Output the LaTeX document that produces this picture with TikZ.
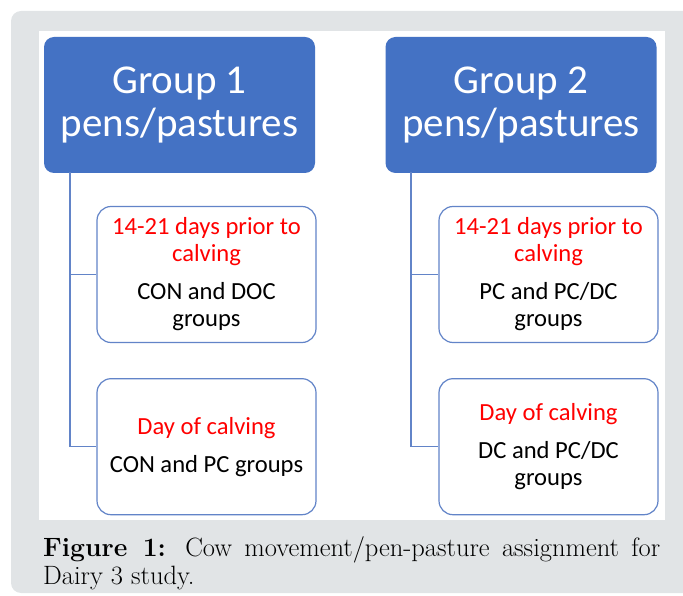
\documentclass[tikz,border=0pt]{standalone}
\usepackage{fontspec}
\newfontfamily\calibrifont{Carlito}
\definecolor{head_c}{RGB}{68,114,196}
\definecolor{line_c}{RGB}{98,132,200}
\definecolor{note_c}{RGB}{255,0,0}
\definecolor{panel_c}{RGB}{225,228,230}
\usetikzlibrary{positioning}

\begin{document}
\begin{tikzpicture}[
			x=1pt, y=1pt,
			head/.style = {rectangle, rounded corners=10pt, fill=head_c, text=white,
				minimum width=271pt, minimum height=136pt, align=center,
				font=\calibrifont\fontsize{41}{43}\selectfont},
			stage/.style = {rectangle, rounded corners=14pt, draw=line_c, line width=1.2pt,
				fill=white, minimum width=219pt, minimum height=136pt, align=center,
				font=\calibrifont\fontsize{24.6}{27}\selectfont},
			link/.style = {draw=line_c, line width=1.2pt},
			node distance = 35pt,
			]
			\useasboundingbox (0,0) rectangle (683,595);
			% background
			\fill[panel_c, rounded corners=10pt] (11,2) rectangle (700,584);
			\fill[white] (39,75) rectangle (665,564);
			% group boxes
			\node[head] (h1) at (179.5,490) {Group 1\\pens/pastures};
			\node[head] (h2) at (521,490) {Group 2\\pens/pastures};
			% stages
			\node[stage] (s1a) at (206.5,320.5)
			      {\textcolor{note_c}{14-21 days prior to}\\\textcolor{note_c}{calving}\\[11pt]CON and DOC\\groups};
			\node[stage, below=of s1a] (s1b)
			      {\textcolor{note_c}{Day of calving}\\[11pt]CON and PC groups};
			\node[stage] (s2a) at (548.5,320.5)
			      {\textcolor{note_c}{14-21 days prior to}\\\textcolor{note_c}{calving}\\[11pt]PC and PC/DC\\groups};
			\node[stage, below=of s2a] (s2b)
			      {\textcolor{note_c}{Day of calving}\\[11pt]DC and PC/DC\\groups};
			% edges
			\coordinate (t1) at (70,423);
			\coordinate (t2) at (411,423);
			\path[link] (t1) |- (s1a.west)
			            (t1) |- (s1b.west)
			            (t2) |- (s2a.west)
			            (t2) |- (s2b.west);
			% caption
			\node[anchor=north west, inner sep=0pt, text width=617pt, align=justify,
			      font=\fontsize{26.5}{28}\selectfont] (cap) at (43,59)
			      {\textbf{Figure 1:} Cow movement/pen-pasture assignment for\linebreak Dairy 3 study.};
		\end{tikzpicture}
\end{document}
